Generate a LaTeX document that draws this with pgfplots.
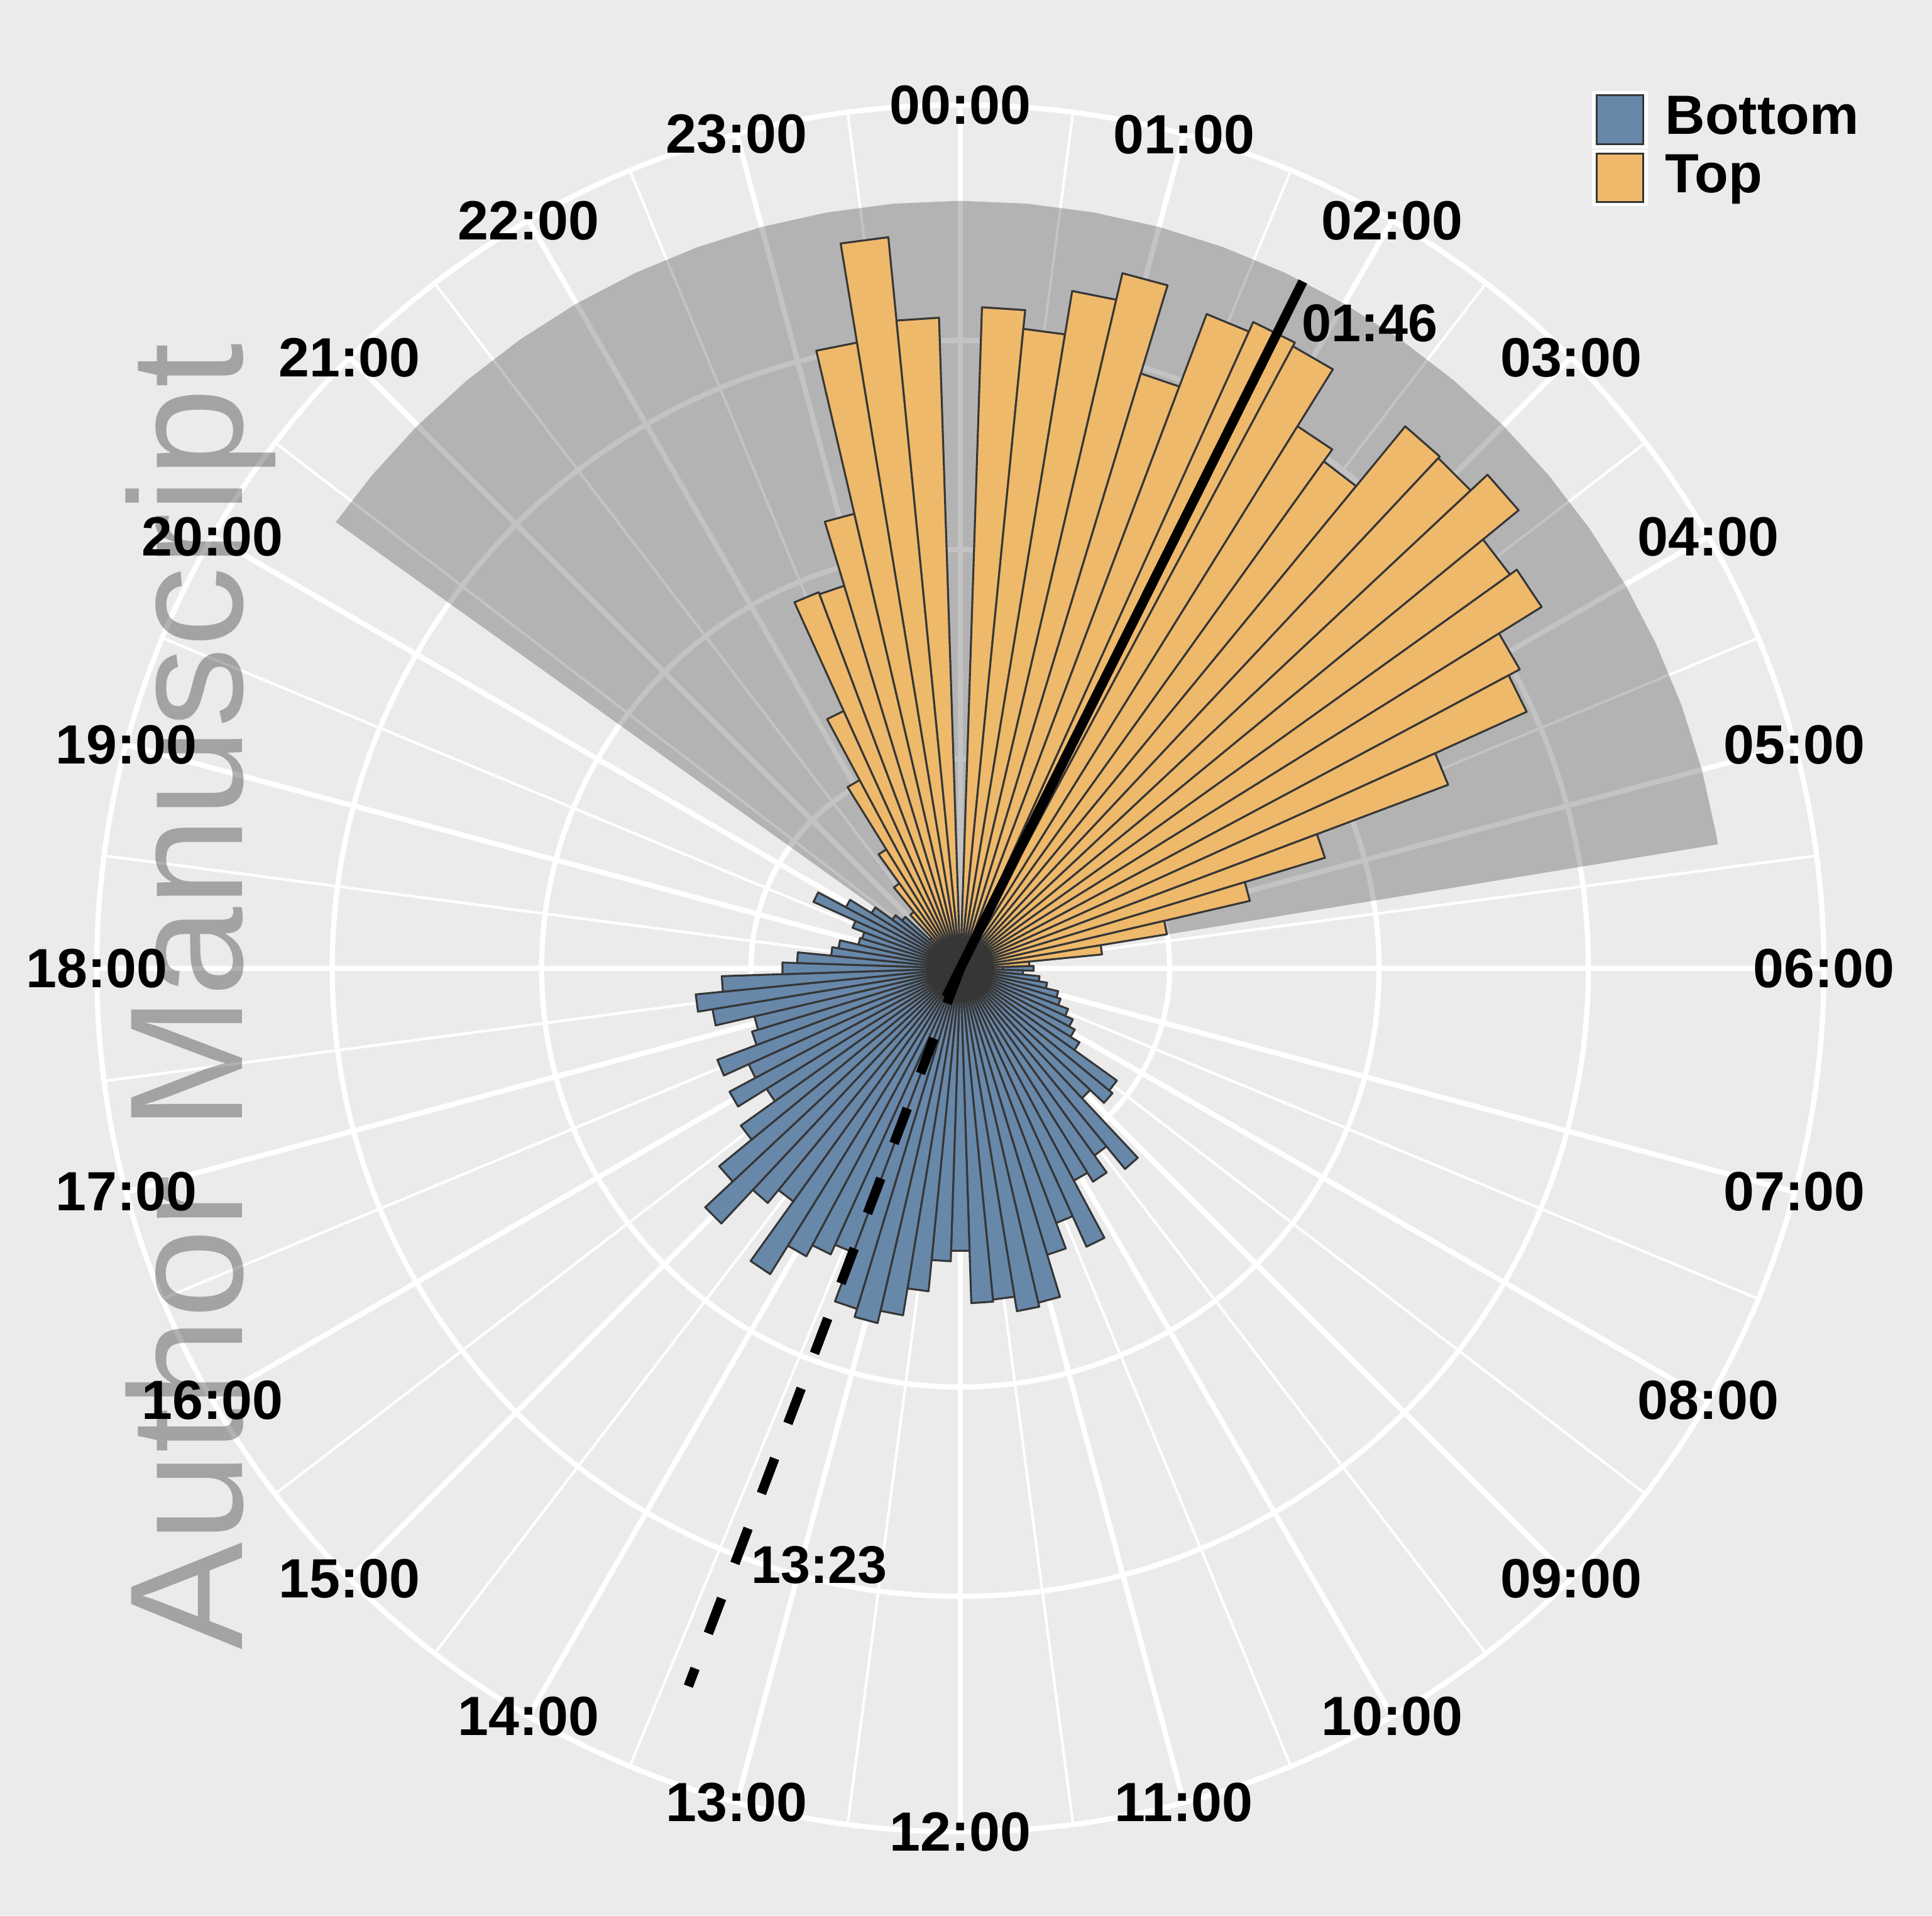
\documentclass[border=0pt]{standalone}
\usepackage{fontspec}
\setmainfont{Liberation Sans}
\usepackage{pgfplots}
\usepackage{pgfplotstable}
\pgfplotsset{compat=1.18}
\usepgfplotslibrary{polar}

\definecolor{panelbg}{HTML}{EBEBEB}
\definecolor{topfill}{HTML}{EEB96B}
\definecolor{botfill}{HTML}{6888AA}
\definecolor{baredge}{HTML}{363636}
\definecolor{watermark}{HTML}{B1B1B1}

% 15-minute bins: bin centre (hour of day), Top and Bottom values (stacked)
\pgfplotstableread{
hour   top   bottom
21.00  0.20  0
21.25  0.35  0
21.50  0.50  0
21.75  0.67  0
22.00  1.02  0
22.25  1.35  0
22.50  1.92  0
22.75  1.91  0
23.00  2.23  0
23.25  3.03  0
23.50  3.51  0
23.75  3.11  0
0.25   3.16  0
0.50   3.07  0
0.75   3.28  0
1.00   3.41  0
1.25   2.97  0
1.50   3.34  0
1.75   3.39  0
2.00   3.37  0
2.25   3.05  0
2.50   2.98  0
2.75   3.35  0
3.00   3.34  0
3.25   3.45  0
3.50   3.23  0
3.75   3.27  0
4.00   3.03  0
4.25   2.97  0
4.50   2.49  0
4.75   1.82  0
5.00   1.42  0
5.25   1.00  0
5.50   0.68  0
5.75   0.33  0
6.00   0.20  0.15
6.25   0     0.30
6.50   0     0.38
6.75   0     0.42
7.00   0     0.48
7.25   0     0.50
7.50   0     0.55
7.75   0     0.59
8.00   0     0.62
8.25   0     0.67
8.50   0     0.92
8.75   0     0.94
9.00   0     0.85
9.25   0     1.24
9.50   0     1.10
9.75   0     1.20
10.00  0     1.15
10.25  0     1.46
10.50  0     1.30
10.75  0     1.43
11.00  0     1.64
11.25  0     1.66
11.50  0     1.59
11.75  0     1.60
12.00  0     1.35
12.25  0     1.40
12.50  0     1.55
12.75  0     1.68
13.00  0     1.74
13.25  0     1.70
13.50  0     1.45
13.75  0     1.50
14.00  0     1.56
14.25  0     1.72
14.50  0     1.37
14.75  0     1.45
15.00  0     1.67
15.25  0     1.49
15.50  0     1.29
15.75  0     1.09
16.00  0     1.25
16.25  0     1.11
16.50  0     1.24
16.75  0     1.04
17.00  0     1.01
17.25  0     1.20
17.50  0     1.27
17.75  0     1.14
18.00  0     0.85
18.25  0     0.78
18.50  0     0.62
18.75  0     0.59
19.00  0     0.50
19.25  0     0.49
19.50  0     0.55
19.75  0     0.77
20.00  0     0.62
20.25  0     0.50
20.50  0     0.40
20.75  0     0.36
}\activity

\pgfplotstablegetrowsof{\activity}
\pgfmathtruncatemacro\lastrow{\pgfplotsretval-1}

\pgfplotsset{
  topbar/.style={fill=topfill, draw=baredge, line width=0.45pt, line join=round, forget plot},
  botbar/.style={fill=botfill, draw=baredge, line width=0.45pt, line join=round, forget plot},
}

\begin{document}
\begin{tikzpicture}
\fill[panelbg] (-220.63pt,-217.60pt) rectangle (223.23pt,222.50pt);
\begin{polaraxis}[
  at={(0pt,0pt)}, anchor=center,
  scale only axis, width=396.8pt, height=396.8pt,
  xmin=0, xmax=360, ymin=0, ymax=4.125,
  xtick={0,15,...,345},
  xticklabels={06:00,05:00,04:00,03:00,02:00,01:00,00:00,23:00,22:00,21:00,20:00,19:00,
               18:00,17:00,16:00,15:00,14:00,13:00,12:00,11:00,10:00,09:00,08:00,07:00},
  minor x tick num=1,
  ytick={1,2,3}, yticklabels={},
  xmajorgrids, xminorgrids, ymajorgrids,
  major grid style={white, line width=1.2pt},
  minor grid style={white, line width=0.6pt},
  axis line style={white, line width=1.2pt},
  major tick length=0pt, minor tick length=0pt,
  xticklabel style={font=\bfseries\fontsize{12.7}{15}\selectfont, anchor=center, inner sep=0pt},
  clip=false,
  legend style={at={(axis description cs:0.8657,1.0078)}, anchor=north west,
    draw=none, fill=none, inner sep=0pt, outer sep=0pt, row sep=0.3pt,
    font=\bfseries\fontsize{12.7}{15}\selectfont,
    nodes={inner sep=0pt, text height=9.2pt, text depth=2.6pt},
    /tikz/every odd column/.append style={column sep=4.0pt}},
  legend cell align=left,
  legend image code/.code={
    \fill[white] (0pt,-6.3pt) rectangle (12.4pt,6.3pt);
    \draw[#1] (0.8pt,-5.6pt) rectangle (11.6pt,5.6pt);
  },
]
% night-time sector, out to the top of the radial range
\addplot[draw=none, fill=black, fill opacity=0.235, forget plot] coordinates {
  (0,0) (9.3,3.667) (10,3.667) (15,3.667) (20,3.667) (25,3.667) (30,3.667)
  (35,3.667) (40,3.667) (45,3.667) (50,3.667) (55,3.667) (60,3.667) (65,3.667)
  (70,3.667) (75,3.667) (80,3.667) (85,3.667) (90,3.667) (95,3.667) (100,3.667)
  (105,3.667) (110,3.667) (115,3.667) (120,3.667) (125,3.667) (130,3.667)
  (135,3.667) (140,3.667) (144.45,3.667) (0,0)};

% one wedge per bin: Top from the centre, Bottom stacked above it
\pgfplotsinvokeforeach{0,...,\lastrow}{%
  \pgfplotstablegetelem{#1}{hour}\of\activity \let\hr\pgfplotsretval
  \pgfplotstablegetelem{#1}{top}\of\activity \let\tp\pgfplotsretval
  \pgfplotstablegetelem{#1}{bottom}\of\activity \let\bt\pgfplotsretval
  \pgfmathsetmacro\pa{mod(450-15*(\hr-0.125),360)}%
  \pgfmathsetmacro\pb{mod(450-15*(\hr+0.125),360)}%
  \pgfmathsetmacro\rr{\tp+\bt}%
  \ifdim\tp pt>0pt
    \edef\cmd{\noexpand\addplot[topbar] coordinates {(0,0) (\pa,\tp) (\pb,\tp) (0,0)};}\cmd
  \fi
  \ifdim\bt pt>0pt
    \edef\cmd{\noexpand\addplot[botbar] coordinates {(\pa,\tp) (\pa,\rr) (\pb,\rr) (\pb,\tp) (\pa,\tp)};}\cmd
  \fi
}

% mean activity times
\addplot[black, line width=2.2pt, forget plot] coordinates {(243.5,0.153) (63.5,3.667)};
\addplot[black, line width=2.2pt, dash pattern=on 8.6pt off 8.6pt, forget plot]
  coordinates {(0,0) (249.25,3.667)};
\node[font=\bfseries\fontsize{12.2}{14}\selectfont] at (axis cs:57.6,3.65) {01:46};
\node[font=\bfseries\fontsize{12.2}{14}\selectfont] at (axis cs:256.7,2.93) {13:23};

\addlegendimage{fill=botfill, draw=baredge, line width=0.45pt}
\addlegendentry{Bottom}
\addlegendimage{fill=topfill, draw=baredge, line width=0.45pt}
\addlegendentry{Top}
\end{polaraxis}
% repository watermark, multiplied over the page
\begin{scope}[blend mode=multiply]
\node[rotate=90, anchor=base west, inner sep=0pt, text=watermark,
      font=\fontsize{37}{40}\selectfont] at (-164.9pt,-156.8pt) {Author Manuscript};
\end{scope}
\pgfresetboundingbox
\useasboundingbox (-220.63pt,-217.60pt) rectangle (223.23pt,222.50pt);
\end{tikzpicture}
\end{document}
